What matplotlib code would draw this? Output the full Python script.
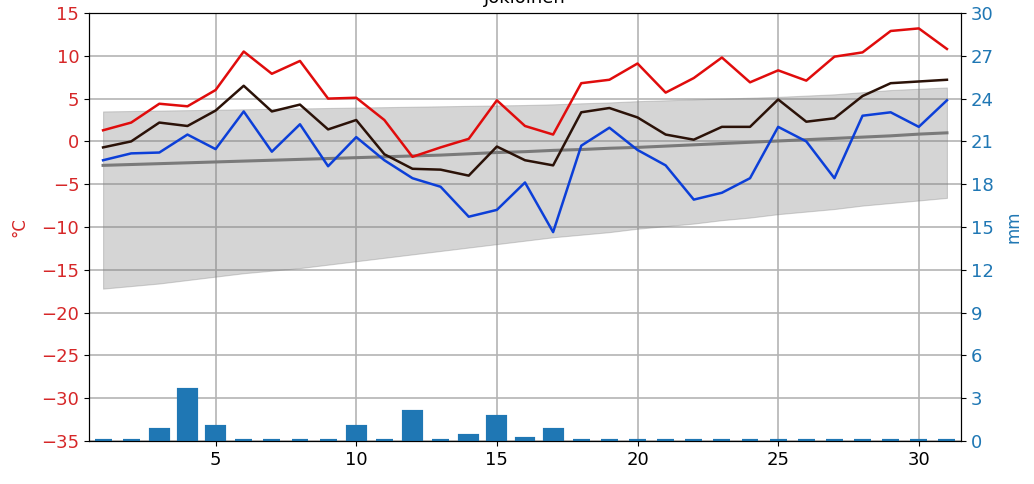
import numpy as np
import matplotlib.pyplot as plt

# daily data, Jokioinen
days = np.arange(1, 32)
t_max = [1.3, 2.2, 4.4, 4.1, 6.0, 10.5, 7.9, 9.4, 5.0, 5.1, 2.5, -1.8, -0.7, 0.3, 4.8, 1.8,
         0.8, 6.8, 7.2, 9.1, 5.7, 7.4, 9.8, 6.9, 8.3, 7.1, 9.9, 10.4, 12.9, 13.2, 10.8]
t_mean = [-0.7, 0.0, 2.2, 1.8, 3.6, 6.5, 3.5, 4.3, 1.4, 2.5, -1.5, -3.2, -3.3, -4.0, -0.6, -2.2,
          -2.8, 3.4, 3.9, 2.8, 0.8, 0.2, 1.7, 1.7, 4.9, 2.3, 2.7, 5.3, 6.8, 7.0, 7.2]
t_min = [-2.2, -1.4, -1.3, 0.8, -0.9, 3.5, -1.2, 2.0, -2.9, 0.5, -2.2, -4.3, -5.3, -8.8, -8.0, -4.8,
         -10.6, -0.5, 1.6, -1.0, -2.8, -6.8, -6.0, -4.3, 1.7, 0.0, -4.3, 3.0, 3.4, 1.7, 4.8]
clim_mean = [-2.8, -2.7, -2.6, -2.5, -2.4, -2.3, -2.2, -2.1, -2.0, -1.9, -1.8, -1.7, -1.6, -1.45, -1.3, -1.2,
             -1.05, -0.95, -0.8, -0.7, -0.55, -0.4, -0.25, -0.1, 0.05, 0.2, 0.35, 0.5, 0.65, 0.85, 1.0]
clim_hi = [3.5, 3.55, 3.6, 3.65, 3.7, 3.75, 3.8, 3.85, 3.9, 3.95, 4.0, 4.05, 4.1, 4.15, 4.2, 4.25,
           4.33, 4.45, 4.55, 4.7, 4.8, 4.9, 5.0, 5.1, 5.2, 5.35, 5.5, 5.75, 6.0, 6.15, 6.3]
clim_lo = [-17.2, -16.9, -16.6, -16.2, -15.8, -15.4, -15.1, -14.8, -14.4, -14.0, -13.6, -13.2, -12.8, -12.4,
           -12.0, -11.6, -11.2, -10.9, -10.6, -10.2, -9.9, -9.6, -9.2, -8.9, -8.5, -8.2, -7.9, -7.5, -7.2,
           -6.9, -6.6]
precip = [0.0, 0.0, 0.8, 3.55, 1.0, 0.0, 0.0, 0.0, 0.0, 1.0, 0.0, 2.05, 0.0, 0.35, 1.7, 0.15,
          0.8, 0.0, 0.0, 0.0, 0.0, 0.0, 0.0, 0.0, 0.0, 0.0, 0.0, 0.0, 0.0, 0.0, 0.0]

red = '#d62728'
blue = '#1f77b4'

fig = plt.figure(figsize=(10.34, 4.84), dpi=100)
ax = fig.add_axes([89/1034, 1 - 441/484, (961 - 89)/1034, (441 - 13)/484])

ax.grid(True, color='#b4b4b4', linewidth=1.2)
ax.set_axisbelow(True)
ax.fill_between(days, clim_lo, clim_hi, color='gray', alpha=0.33, linewidth=0.8)
ax.plot(days, clim_mean, color='#7a7a7a', linewidth=2.2)
ax.plot(days, t_max, color='#e00c0c', linewidth=1.8)
ax.plot(days, t_mean, color='#2b1208', linewidth=1.8)
ax.plot(days, t_min, color='#0c3fd8', linewidth=1.8)

ax.set_xlim(0.5, 31.5)
ax.set_ylim(-35, 15)
ax.set_yticks(np.arange(-35, 16, 5))
ax.set_xticks([5, 10, 15, 20, 25, 30])
ax.tick_params(axis='y', colors='black', labelcolor=red, labelsize=13)
ax.tick_params(axis='x', labelsize=13)
ax.set_ylabel('°C', color=red, fontsize=12, labelpad=9)
ax.set_title('Jokioinen', fontsize=13, pad=7)

ax2 = ax.twinx()
ax2.bar(days, precip, width=0.6, color=blue, edgecolor=blue, linewidth=3)
ax2.set_ylim(0, 30)
ax2.set_yticks(np.arange(0, 31, 3))
ax2.tick_params(axis='y', labelcolor=blue, labelsize=13)
ax2.set_ylabel('mm', color=blue, fontsize=12, labelpad=8)

fig.savefig('out.png', dpi=100)
